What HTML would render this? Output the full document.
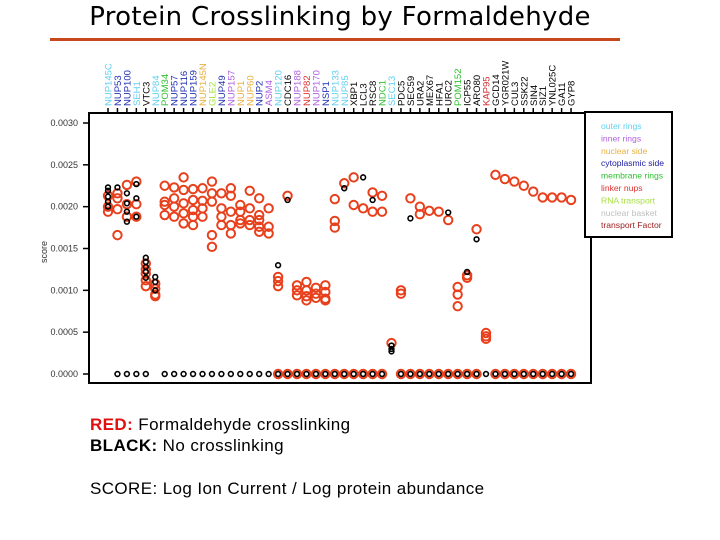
<!DOCTYPE html>
<html><head><meta charset="utf-8">
<style>
body{margin:0;background:#fff;width:720px;height:540px;overflow:hidden;position:relative;font-family:"Liberation Sans",sans-serif}
#title{position:absolute;left:0;width:680px;top:2px;text-align:center;font-family:"Comic Sans MS","DejaVu Sans",sans-serif;font-size:26px;color:#000;letter-spacing:0.3px}
#rule{position:absolute;left:50px;top:38px;width:570px;height:3px;background:#c8481e}
.note{position:absolute;left:90px;font-size:17px;letter-spacing:0.4px;color:#000;font-family:"Liberation Sans",Arial,sans-serif}
</style></head><body>
<div id="title">Protein Crosslinking by Formaldehyde</div>
<div id="rule"></div>
<svg id="chart" width="720" height="540" style="position:absolute;left:0;top:0"></svg>
<div class="note" style="top:415px"><b style="color:#e01010">RED:</b> Formaldehyde crosslinking</div>
<div class="note" style="top:436px"><b>BLACK:</b> No crosslinking</div>
<div class="note" style="top:479px">SCORE: Log Ion Current / Log protein abundance</div>
<script>
const labels=["NUP145C","NUP53","NUP100","SEH1","VTC3","NUP84","POM34","NUP57","NUP116","NUP159","NUP145N","GLE2","NUP49","NUP157","NUP1","NUP60","NUP2","ASM4","NUP120","CDC16","NUP188","NUP82","NUP170","NSP1","NUP133","NUP85","XBP1","LCL3","RSC8","NDC1","SEC13","PDC5","SEC59","URA2","MEX67","HFA1","URC2","POM152","ICP55","ARO80","KAP95","GCD14","YGR021W","CUL3","SSK22","SIN4","SIZ1","YNL025C","GA11","GYP8"];
const labelColors=["#60d0f0","#2030b0","#2030b0","#60d0f0","#000","#60d0f0","#30c030","#2030b0","#2030b0","#2030b0","#e8b040","#a8e040","#2030b0","#b060e0","#e8b040","#e8b040","#2030b0","#b060e0","#60d0f0","#000","#b060e0","#e03030","#b060e0","#2030b0","#60d0f0","#60d0f0","#000","#000","#000","#30c030","#60d0f0","#000","#000","#000","#000","#000","#000","#30c030","#000","#000","#d03030","#000","#000","#000","#000","#000","#000","#000","#000","#000"];
const redScores=[
[0.00213,0.0020,0.00194],[0.00216,0.0021,0.00197,0.00166],[0.00226,0.00203,0.00188],[0.0023,0.00203,0.00188],
[0.00132,0.00125,0.0012,0.00112,0.00105],[0.00108,0.00102,0.00095,0.00093],
[0.00225,0.00206,0.00202,0.0019],[0.00223,0.0021,0.002,0.00188],[0.00235,0.0022,0.00204,0.00192,0.0018],
[0.00221,0.00208,0.00196,0.00188,0.00178],[0.00222,0.00207,0.00198,0.00188],[0.0023,0.00216,0.00206,0.00166,0.00152],
[0.00216,0.00198,0.00188,0.00178],[0.00222,0.00213,0.00194,0.00178,0.00168],[0.00202,0.00194,0.00184,0.0018],
[0.00219,0.00198,0.00184,0.00178],[0.0021,0.0019,0.00184,0.00176,0.0017],[0.00198,0.00176,0.00168],
[0.00116,0.00111,0.00105,0],[0.00213,0],[0.00106,0.001,0.00094,0],[0.0011,0.001,0.00093,0.00088,0],[0.00103,0.00096,0.00091,0],
[0.00106,0.00098,0.0009,0.00088,0],[0.00209,0.00183,0.00175,0],[0.00228,0],[0.00235,0.00202,0],[0.00198,0],[0.00217,0.00194,0],
[0.00213,0.00194,0],[0.00037],[0.001,0.00096,0],[0.0021,0],[0.002,0.00191,0],[0.00195,0],[0.00194,0],[0.00184,0],
[0.00104,0.00095,0.00081,0],[0.00118,0.00115,0],[0.00173,0],[0.00049,0.00045,0.00042],[0.00238,0],[0.00233,0],[0.0023,0],
[0.00225,0],[0.00218,0],[0.00211,0],[0.00211,0],[0.00211,0],[0.00208,0]];
const blackScores=[
[0.00223,0.00219,0.00212,0.00206,0.002],[0.00223,0],[0.00216,0.00204,0.00194,0.00182,0],[0.00227,0.0021,0.00188,0],
[0.00139,0.00134,0.00128,0.00122,0.00115,0],[0.00116,0.0011,0.001],
[0],[0],[0],[0],[0],[0],[0],[0],[0],[0],[0],[0],
[0.0013,0],[0.00208,0],[0],[0],[0],[0],[0],[0.00222,0],[0],[0.00235,0],[0.00208,0],[0],
[0.00034,0.0003,0.00027],[0],[0.00186,0],[0],[0],[0],[0.00193,0],[0],[0.00122,0],[0.00161,0],[0],
[0],[0],[0],[0],[0],[0],[0],[0],[0]];
const yTicks=[0,0.0005,0.001,0.0015,0.002,0.0025,0.003];
const yTickLabels=["0.0000","0.0005","0.0010","0.0015","0.0020","0.0025","0.0030"];
const legendNames=["outer rings","inner rings","nuclear side","cytoplasmic side","membrane rings","linker nups","RNA transport","nuclear basket","transport Factor"];
const legendColors=["#60d0f0","#b060e0","#e8b040","#1a1aa0","#30c030","#e03030","#a8e040","#c0c0c0","#a02020"];

const NS="http://www.w3.org/2000/svg";
const svg=document.getElementById('chart');
function mk(t,a,p){const e=document.createElementNS(NS,t);for(const k in a)e.setAttribute(k,a[k]);(p||svg).appendChild(e);return e;}
const xS=i=>108+i*9.45;
const yS=v=>374-v/0.003*251;

let e;
e=mk('rect',{x:89,y:113,width:502,height:270,fill:'none',stroke:'#000','stroke-width':2});


yTicks.forEach((v,i)=>{
  e=mk('line',{x1:83,x2:89,y1:yS(v),y2:yS(v),stroke:'#000','stroke-width':1.5});
  
  
  e=mk('text',{x:78,y:yS(v)+3,'text-anchor':'end','font-size':9,fill:'#333','font-family':'Liberation Sans, sans-serif'});
  e.textContent=yTickLabels[i];
  
  
});
e=mk('text',{x:0,y:0,transform:'translate(47,252) rotate(-90)','text-anchor':'middle','font-size':9,fill:'#333','font-family':'Liberation Sans, sans-serif'});
e.textContent='score';


labels.forEach((l,i)=>{
  const x=xS(i);
  e=mk('line',{x1:x,x2:x,y1:108,y2:113,stroke:'#000','stroke-width':1.5});
  
  
  e=mk('text',{x:0,y:0,transform:`translate(${x+3.5},106) rotate(-90)`,'font-size':9.5,fill:labelColors[i],'font-family':'Liberation Sans, sans-serif'});
  e.textContent=l;
  
  
});
redScores.forEach((arr,i)=>arr.forEach(v=>{
  e=mk('circle',{cx:xS(i),cy:yS(v),r:4.2,fill:'none',stroke:'#e8401c','stroke-width':2});
  
  
}));
blackScores.forEach((arr,i)=>arr.forEach(v=>{
  e=mk('circle',{cx:xS(i),cy:yS(v),r:2.4,fill:'none',stroke:'#000','stroke-width':1.6});
  
  
}));
e=mk('rect',{x:585,y:112,width:87,height:125,fill:'#fff',stroke:'#000','stroke-width':2});


legendNames.forEach((n,i)=>{
  e=mk('text',{x:601,y:129+i*12.4,'font-size':8.6,fill:legendColors[i],'font-family':'Liberation Sans, sans-serif'});
  e.textContent=n;
  
  
});
</script>
</body></html>
